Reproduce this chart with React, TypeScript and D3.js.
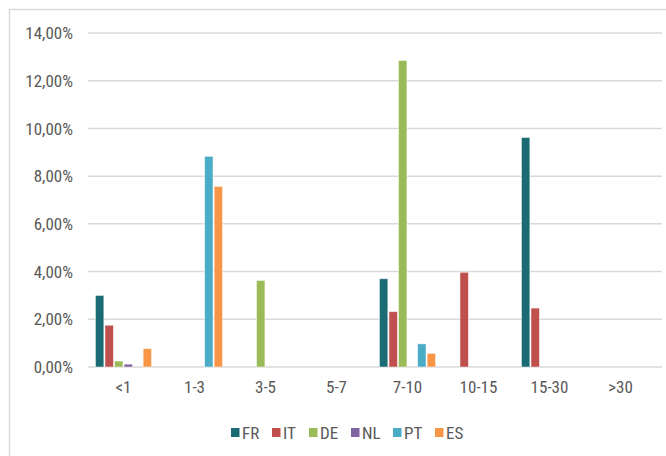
import React from "react";
import * as d3 from "d3";

const categories = ["<1", "1-3", "3-5", "5-7", "7-10", "10-15", "15-30", ">30"];
const seriesNames = ["FR", "IT", "DE", "NL", "PT", "ES"];
const colors = ["#1a6b73", "#c0504d", "#9bbb59", "#8064a2", "#4bacc6", "#f79646"];
const FR = [3.0, 0, 0, 0, 3.7, 0, 9.62, 0];
const IT = [1.75, 0, 0, 0, 2.32, 3.97, 2.47, 0];
const DE = [0.25, 0, 3.63, 0, 12.85, 0, 0, 0];
const NL = [0.12, 0, 0, 0, 0, 0, 0, 0];
const PT = [0, 8.83, 0, 0, 0.97, 0, 0, 0];
const ES = [0.77, 7.57, 0, 0, 0.57, 0, 0, 0];
const seriesValues = [FR, IT, DE, NL, PT, ES];
const yTicks = [0, 2, 4, 6, 8, 10, 12, 14];

export default function App() {
  const W = 666, H = 456;
  const left = 88, right = 656, top = 33, bottom = 367;
  const x = d3.scaleBand<string>().domain(categories).range([left, right]).paddingInner(0.21).paddingOuter(0.105);
  const xs = d3.scaleBand<string>().domain(seriesNames).range([0, x.bandwidth()]).paddingInner(0.12);
  const y = d3.scaleLinear().domain([0, 14]).range([bottom, top]);
  const font = "'Liberation Sans Narrow', 'Roboto Condensed', 'Liberation Sans', sans-serif";
  const fs = 17;
  const legendX = [231, 272, 309, 351, 393, 435];
  return (
    <svg width={W} height={H} style={{ position: "absolute", left: 0, top: 0 }}>
      <rect x={0} y={0} width={W} height={H} fill="#fff" />
      <rect x={9.5} y={9.5} width={700} height={600} fill="none" stroke="#d9d9d9" strokeWidth={1.5} />
      {yTicks.map((t) => (
        <g key={t}>
          <line x1={left} x2={662} y1={y(t)} y2={y(t)} stroke="#d9d9d9" strokeWidth={1.5} />
          <text x={73} y={y(t)} dy="0.36em" textAnchor="end" fontFamily={font} fontSize={fs} fill="#595959">
            {t.toFixed(2).replace(".", ",") + "%"}
          </text>
        </g>
      ))}
      {seriesValues.map((vals, si) =>
        vals.map((v, ci) =>
          v > 0 ? (
            <rect
              key={si + "-" + ci}
              x={(x(categories[ci]) as number) + (xs(seriesNames[si]) as number)}
              y={y(v)}
              width={xs.bandwidth()}
              height={y(0) - y(v)}
              fill={colors[si]}
              stroke="#ffffff"
              strokeOpacity={0.6}
              strokeWidth={0.8}
            />
          ) : null
        )
      )}
      {categories.map((c) => (
        <text key={c} x={(x(c) as number) + x.bandwidth() / 2} y={393} textAnchor="middle" fontFamily={font} fontSize={fs} fill="#595959">
          {c}
        </text>
      ))}
      {seriesNames.map((s, i) => (
        <g key={s}>
          <rect x={legendX[i]} y={428} width={8.5} height={9} fill={colors[i]} />
          <text x={legendX[i] + 11} y={439} fontFamily={font} fontSize={fs} fill="#595959">
            {s}
          </text>
        </g>
      ))}
    </svg>
  );
}
